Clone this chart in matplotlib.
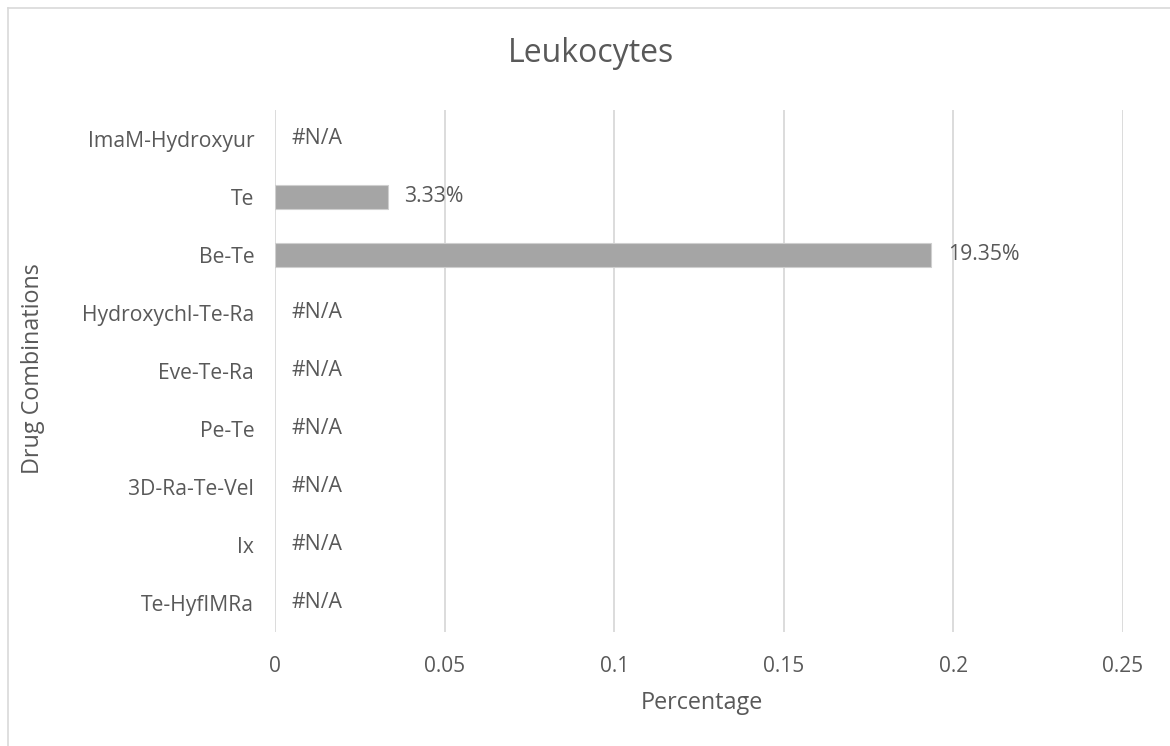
import matplotlib
matplotlib.use("Agg")
import matplotlib.pyplot as plt
from matplotlib.lines import Line2D

# Data (top to bottom as displayed); None marks missing values (#N/A)
categories = ["ImaM-Hydroxyur", "Te", "Be-Te", "Hydroxychl-Te-Ra", "Eve-Te-Ra",
              "Pe-Te", "3D-Ra-Te-Vel", "Ix", "Te-HyfIMRa"]
values = [None, 0.0333, 0.1935, None, None, None, None, None, None]
xticks = [0, 0.05, 0.1, 0.15, 0.2, 0.25]
xtick_labels = ["0", "0.05", "0.1", "0.15", "0.2", "0.25"]

TEXT = "#595959"
GRID = "#D9D9D9"
BAR = "#A5A5A5"

plt.rcParams["font.family"] = ["Open Sans", "DejaVu Sans"]

W, H = 1170, 746
fig = plt.figure(figsize=(W / 100, H / 100), dpi=100)
ax = fig.add_axes([275 / W, 1 - 632 / H, (1123 - 275) / W, (632 - 110) / H])

n = len(categories)
ypos = list(range(n))[::-1]
bar_y = [y for y, v in zip(ypos, values) if v is not None]
bar_w = [v for v in values if v is not None]
ax.barh(bar_y, bar_w, height=0.4, color=BAR, edgecolor="#CFCFCF", linewidth=0.8, zorder=3)

ax.set_xlim(0, 0.25)
ax.set_ylim(-0.5, n - 0.5)
ax.set_xticks(xticks)
ax.set_xticklabels(xtick_labels, fontsize=15)
ax.set_yticks(ypos)
ax.set_yticklabels(categories, fontsize=15.2)
ax.tick_params(axis="both", length=0, labelcolor=TEXT)
ax.tick_params(axis="y", pad=15)
ax.tick_params(axis="x", pad=17)
ax.grid(axis="x", color=GRID, linewidth=1.3, zorder=0)
for s in ax.spines.values():
    s.set_visible(False)

# Data labels
off = 0.0048
for y, v in zip(ypos, values):
    if v is None:
        ax.text(off, y, "#N/A", va="center", ha="left", fontsize=15.3, color=TEXT)
    else:
        ax.text(v + off, y, f"{v * 100:.2f}%", va="center", ha="left", fontsize=15.3, color=TEXT)

fig.text(591 / W, 1 - 54 / H, "Leukocytes", ha="center", va="center", fontsize=23, color=TEXT)
fig.text(702 / W, 1 - 703 / H, "Percentage", ha="center", va="center", fontsize=16.8, color=TEXT)
fig.text(33 / W, 1 - 369 / H, "Drug Combinations", ha="center", va="center",
         rotation=90, fontsize=16.8, color=TEXT)

# Chart area border (top and left edges)
fig.add_artist(Line2D([7.5 / W, 1.0], [1 - 7.5 / H, 1 - 7.5 / H], color=GRID, linewidth=1.2,
                      transform=fig.transFigure))
fig.add_artist(Line2D([7.5 / W, 7.5 / W], [0.0, 1 - 7.5 / H], color=GRID, linewidth=1.2,
                      transform=fig.transFigure))

fig.savefig("out.png", dpi=100)
